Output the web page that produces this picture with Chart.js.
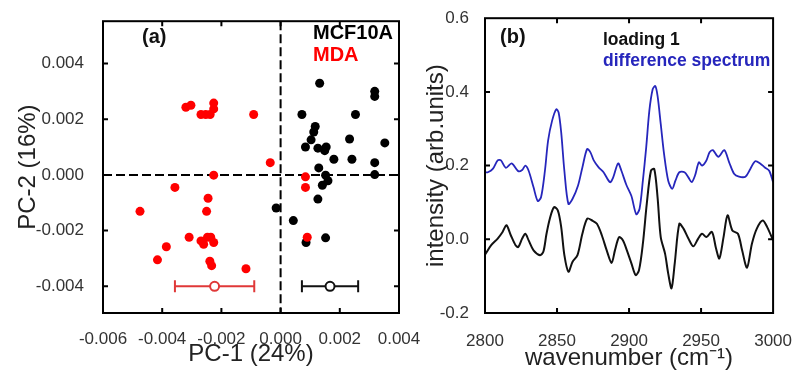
<!DOCTYPE html>
<html><head><meta charset="utf-8">
<script src="https://cdn.jsdelivr.net/npm/chart.js@4/dist/chart.umd.min.js"></script>
<style>
html,body{margin:0;padding:0;background:#fff;width:802px;height:372px;overflow:hidden;}
#a{position:absolute;left:0;top:0;}
#b{position:absolute;left:420px;top:0;}
</style></head><body>
<canvas id="a" width="440" height="372"></canvas>
<canvas id="b" width="382" height="372"></canvas>
<script>
// ---------- Panel (a): PCA scores ----------
const redX = [-3.20e-3,-3.03e-3,-2.69e-3,-2.53e-3,-2.38e-3,-2.26e-3,-2.26e-3,-0.91e-3,-0.35e-3,-2.26e-3,0.84e-3,-3.57e-3,-2.45e-3,-4.75e-3,-2.50e-3,-3.09e-3,-2.69e-3,-2.60e-3,-2.47e-3,-2.36e-3,-2.26e-3,-3.86e-3,-4.16e-3,-2.39e-3,-2.33e-3,-1.17e-3,0.84e-3,0.90e-3];
const redY = [2.43e-3,2.50e-3,2.17e-3,2.17e-3,2.17e-3,2.58e-3,2.37e-3,2.17e-3,0.44e-3,-0.01e-3,-0.07e-3,-0.45e-3,-0.84e-3,-1.31e-3,-1.31e-3,-2.24e-3,-2.37e-3,-2.49e-3,-2.24e-3,-2.24e-3,-2.43e-3,-2.58e-3,-3.05e-3,-3.10e-3,-3.26e-3,-3.37e-3,-0.45e-3,-2.24e-3];
const blackX = [1.32e-3,3.18e-3,3.18e-3,0.72e-3,2.53e-3,1.17e-3,1.12e-3,1.03e-3,2.33e-3,3.52e-3,0.84e-3,1.26e-3,1.54e-3,1.49e-3,1.80e-3,2.41e-3,3.18e-3,1.29e-3,3.18e-3,1.52e-3,1.60e-3,1.41e-3,1.26e-3,-0.15e-3,0.43e-3,0.86e-3,1.52e-3];
const blackY = [3.29e-3,3.00e-3,2.82e-3,2.17e-3,2.17e-3,1.74e-3,1.54e-3,1.26e-3,1.29e-3,1.15e-3,1.00e-3,0.96e-3,1.00e-3,0.87e-3,0.56e-3,0.56e-3,0.44e-3,0.25e-3,0.01e-3,-0.01e-3,-0.21e-3,-0.37e-3,-0.87e-3,-1.19e-3,-1.64e-3,-2.43e-3,-2.26e-3];
// group means (MDA, MCF10A) with horizontal error (sd)
const meanX = [-2.23e-3, 1.67e-3];
const meanY = [-4.0e-3, -4.0e-3];
const sdX = [1.34e-3, 0.95e-3];
const pcXTicks = [-0.006,-0.004,-0.002,0,0.002,0.004];
const pcYTicks = [-0.004,-0.002,0,0.002,0.004];

// ---------- Panel (b): spectra ----------
const diffWn = [2800,2802,2805.4,2808.8,2811.1,2814.5,2818.5,2823,2825.8,2828,2830.3,2833.7,2836.6,2838.9,2841.6,2843.8,2846.6,2849.5,2851.1,2852.9,2855.1,2857.9,2860.8,2864.6,2867.6,2870.9,2873.2,2875.5,2878.9,2882.3,2886.8,2889,2892.4,2894.7,2898.1,2901.6,2905,2907.3,2909.6,2911.9,2914.1,2916.4,2918.2,2919.8,2922,2924.3,2927.2,2930,2932.2,2934.9,2938.5,2941.2,2943.5,2945.8,2948.5,2950.7,2953.7,2955.9,2958.2,2962,2966.1,2969.5,2972.9,2976.3,2980.8,2984.2,2987.6,2991,2994.3,2997.3,3000];
const diffVal = [0.182,0.182,0.191,0.214,0.214,0.194,0.206,0.185,0.188,0.200,0.186,0.141,0.104,0.114,0.186,0.268,0.322,0.353,0.344,0.290,0.186,0.096,0.110,0.146,0.195,0.245,0.236,0.214,0.195,0.182,0.155,0.168,0.206,0.186,0.148,0.118,0.068,0.083,0.159,0.249,0.349,0.407,0.416,0.389,0.313,0.232,0.159,0.137,0.159,0.182,0.182,0.168,0.155,0.173,0.209,0.200,0.214,0.236,0.242,0.224,0.242,0.209,0.178,0.170,0.170,0.191,0.212,0.206,0.195,0.186,0.155];
const loadWn = [2800,2804.3,2808.8,2812.2,2814.9,2817.9,2821.2,2823.1,2825.8,2828,2830.3,2833.7,2838.2,2840.5,2842.7,2845,2847.9,2850.6,2852.9,2855.1,2857.9,2860.8,2864.2,2867.6,2871,2874.4,2877.7,2881.1,2884.5,2887.9,2890.2,2893.1,2895.8,2898.5,2901.7,2904.6,2906.9,2909.6,2912.3,2915.2,2917.5,2919.8,2922,2925,2927.2,2929.5,2931.7,2934.9,2937.8,2941.2,2944.6,2948,2950.7,2953.7,2957.5,2960.4,2962.7,2965.6,2968.4,2971.7,2975.6,2978.5,2981.9,2985.3,2988.7,2992.8,2995.9,3000];
const loadVal = [-0.042,-0.016,0.002,0.020,0.038,0.011,-0.016,-0.021,0.002,0.015,-0.003,-0.030,-0.043,-0.034,0.015,0.056,0.087,0.078,0.033,-0.043,-0.088,-0.061,-0.043,0.015,0.056,0.051,0.042,0.011,-0.030,-0.064,-0.030,0.006,-0.003,-0.030,-0.066,-0.097,-0.084,-0.012,0.096,0.186,0.191,0.114,0.006,-0.039,-0.093,-0.133,-0.066,0.042,0.029,0.002,-0.019,0.002,0.015,0.006,0.020,-0.025,-0.052,0.006,0.065,0.024,0.015,-0.030,-0.077,-0.012,0.029,0.051,0.033,-0.003];
const wnTicks = [2800,2850,2900,2950,3000];
const intTicks = [-0.2,0,0.2,0.4,0.6];

// ---------- styling ----------
const FONT = "'Liberation Sans', Arial, Helvetica, sans-serif";
Chart.defaults.font.family = FONT;
const RED = '#ff0000', BLACK = '#000000', BLUE = '#2626bc';
const TICKC = '#333333', TITLEC = '#222222';

const pts = (xs, ys) => xs.map((x, i) => ({x, y: ys[i]}));

function framePlugin(drawZero) {
  return {
    id: 'frame',
    beforeDatasetsDraw(chart) {
      if (!drawZero) return;
      const {ctx, chartArea: a, scales: {x, y}} = chart;
      ctx.save();
      ctx.strokeStyle = '#000'; ctx.lineWidth = 2; ctx.setLineDash([9, 4]);
      const px = x.getPixelForValue(0), py = y.getPixelForValue(0);
      ctx.beginPath(); ctx.moveTo(px, a.top); ctx.lineTo(px, a.bottom); ctx.stroke();
      ctx.beginPath(); ctx.moveTo(a.left, py); ctx.lineTo(a.right, py); ctx.stroke();
      ctx.restore();
    },
    afterDatasetsDraw(chart) {
      const {ctx, chartArea: a, scales: {x, y}} = chart;
      ctx.save();
      ctx.strokeStyle = '#000'; ctx.lineWidth = 2; ctx.setLineDash([]);
      ctx.strokeRect(a.left, a.top, a.right - a.left, a.bottom - a.top);
      const L = 5;
      ctx.beginPath();
      x.ticks.forEach(t => {
        const p = x.getPixelForValue(t.value);
        if (p <= a.left + 2 || p >= a.right - 2) return;
        ctx.moveTo(p, a.bottom); ctx.lineTo(p, a.bottom - L);
        ctx.moveTo(p, a.top); ctx.lineTo(p, a.top + L);
      });
      y.ticks.forEach(t => {
        const p = y.getPixelForValue(t.value);
        if (p <= a.top + 2 || p >= a.bottom - 2) return;
        ctx.moveTo(a.left, p); ctx.lineTo(a.left + L, p);
        ctx.moveTo(a.right, p); ctx.lineTo(a.right - L, p);
      });
      ctx.stroke();
      ctx.restore();
    }
  };
}

function textPlugin(items) {
  return {
    id: 'labels',
    afterDraw(chart) {
      const ctx = chart.ctx;
      ctx.save();
      ctx.textBaseline = 'middle'; ctx.textAlign = 'left';
      items.forEach(it => {
        ctx.font = it.font; ctx.fillStyle = it.color;
        ctx.fillText(it.text, it.x, it.y);
      });
      ctx.restore();
    }
  };
}

// ---------- Chart (a) ----------
new Chart(document.getElementById('a'), {
  type: 'scatter',
  data: {
    datasets: [
      {label: 'MDA mean', data: [{x: meanX[0], y: meanY[0]}], pointRadius: 4.5, pointBackgroundColor: '#fff', pointBorderColor: '#e03838', pointBorderWidth: 2},
      {label: 'MCF10A mean', data: [{x: meanX[1], y: meanY[1]}], pointRadius: 4.5, pointBackgroundColor: '#fff', pointBorderColor: '#111', pointBorderWidth: 2},
      {label: 'MDA sd', type: 'line', showLine: true, data: [{x: meanX[0] - sdX[0], y: meanY[0]}, {x: meanX[0] + sdX[0], y: meanY[0]}],
        borderColor: '#e03838', borderWidth: 2, pointStyle: 'line', rotation: 90, pointRadius: 6, pointBorderWidth: 2, pointBorderColor: '#e03838'},
      {label: 'MCF10A sd', type: 'line', showLine: true, data: [{x: meanX[1] - sdX[1], y: meanY[1]}, {x: meanX[1] + sdX[1], y: meanY[1]}],
        borderColor: '#111', borderWidth: 2, pointStyle: 'line', rotation: 90, pointRadius: 6, pointBorderWidth: 2, pointBorderColor: '#111'},
      {label: 'MDA', data: pts(redX, redY), pointRadius: 4.5, pointBackgroundColor: RED, pointBorderWidth: 0, borderWidth: 0},
      {label: 'MCF10A', data: pts(blackX, blackY), pointRadius: 4.5, pointBackgroundColor: BLACK, pointBorderWidth: 0, borderWidth: 0}
    ]
  },
  options: {
    responsive: false, animation: false, devicePixelRatio: 1,
    layout: {padding: {left: 0, right: 41, top: 17, bottom: 0}},
    plugins: {legend: {display: false}, tooltip: {enabled: false}},
    scales: {
      x: {
        type: 'linear', min: -0.006, max: 0.004,
        afterBuildTicks: s => { s.ticks = pcXTicks.map(v => ({value: v})); },
        afterFit: s => { s.height = 59; },
        grid: {display: false}, border: {display: false},
        ticks: {autoSkip: false, maxRotation: 0, padding: 8, color: TICKC, font: {size: 17}, callback: v => v.toFixed(3)},
        title: {display: true, text: 'PC-1 (24%)', color: TITLEC, font: {size: 24, lineHeight: 1}, padding: {top: 0, bottom: 6}}
      },
      y: {
        type: 'linear', min: -0.00496, max: 0.00552,
        afterBuildTicks: s => { s.ticks = pcYTicks.map(v => ({value: v})); },
        afterFit: s => { s.width = 103; },
        grid: {display: false}, border: {display: false},
        ticks: {autoSkip: false, padding: 11, color: TICKC, font: {size: 17}, callback: v => v.toFixed(3)},
        title: {display: true, text: 'PC-2 (16%)', color: TITLEC, font: {size: 24}, padding: {top: 13.6, bottom: 0}}
      }
    }
  },
  plugins: [framePlugin(true), textPlugin([
    {text: '(a)', x: 142, y: 37, font: 'bold 20px ' + FONT, color: '#111'},
    {text: 'MCF10A', x: 313, y: 33, font: 'bold 20px ' + FONT, color: '#000'},
    {text: 'MDA', x: 313, y: 55, font: 'bold 20px ' + FONT, color: RED}
  ])]
});

// ---------- Chart (b) ----------
new Chart(document.getElementById('b'), {
  type: 'line',
  data: {
    datasets: [
      {label: 'loading 1', data: pts(loadWn, loadVal), borderColor: '#111', borderWidth: 2, pointRadius: 0, tension: 0.3, fill: false},
      {label: 'difference spectrum', data: pts(diffWn, diffVal), borderColor: BLUE, borderWidth: 1.8, pointRadius: 0, tension: 0.3, fill: false}
    ]
  },
  options: {
    responsive: false, animation: false, devicePixelRatio: 1,
    layout: {padding: {left: 0, right: 22, top: 17, bottom: 0}},
    plugins: {legend: {display: false}, tooltip: {enabled: false}},
    scales: {
      x: {
        type: 'linear', min: 2800, max: 3000,
        afterBuildTicks: s => { s.ticks = wnTicks.map(v => ({value: v})); },
        afterFit: s => { s.height = 59; },
        grid: {display: false}, border: {display: false},
        ticks: {autoSkip: false, maxRotation: 0, padding: 10, color: TICKC, font: {size: 17}, callback: v => String(v)},
        title: {display: true, text: 'wavenumber (cm\u207B\u00B9)', color: TITLEC, font: {size: 24, lineHeight: 1}, padding: {top: 0, bottom: 2}}
      },
      y: {
        type: 'linear', min: -0.2, max: 0.6,
        afterBuildTicks: s => { s.ticks = intTicks.map(v => ({value: v})); },
        afterFit: s => { s.width = 65; },
        grid: {display: false}, border: {display: false},
        ticks: {autoSkip: false, padding: 8, color: TICKC, font: {size: 17}, callback: v => v.toFixed(1)},
        title: {display: true, text: 'intensity (arb.units)', color: TITLEC, font: {size: 24}, padding: {top: 2, bottom: 0}}
      }
    }
  },
  plugins: [framePlugin(false), textPlugin([
    {text: '(b)', x: 80, y: 37, font: 'bold 20px ' + FONT, color: '#111'},
    {text: 'loading 1', x: 183, y: 40, font: 'bold 17.5px ' + FONT, color: '#111'},
    {text: 'difference spectrum', x: 183, y: 61, font: 'bold 17.5px ' + FONT, color: BLUE}
  ])]
});
</script>
</body></html>
